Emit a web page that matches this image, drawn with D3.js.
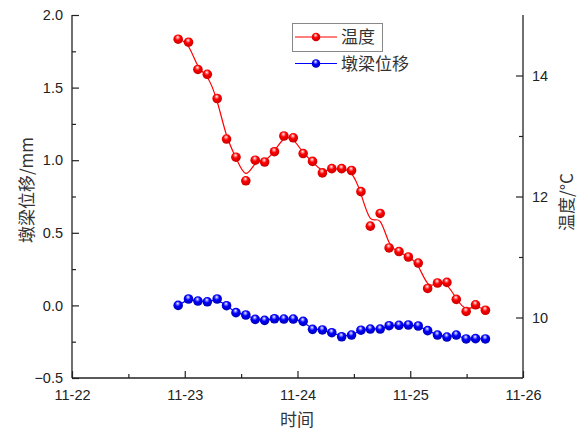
<!DOCTYPE html>
<html><head><meta charset="utf-8">
<script src="https://cdn.jsdelivr.net/npm/d3@7"></script>
<style>
html,body{margin:0;padding:0;background:#fff;}
svg{display:block;}
text{font-family:Arial,"Liberation Sans",sans-serif;}
.cjk{font-family:"Noto Sans CJK SC",sans-serif;}
</style></head>
<body>
<script>
// hours since 11-22 00:00
const timesH = [22.6,24.8,26.8,28.8,30.9,32.9,34.9,37.0,39.0,41.0,43.1,45.1,47.1,49.2,51.2,53.3,55.3,57.4,59.5,61.5,63.5,65.6,67.5,69.6,71.6,73.7,75.7,77.8,79.8,81.8,83.9,85.9,88.0];
const temperature = [14.60,14.55,14.10,14.02,13.62,12.95,12.65,12.26,12.60,12.57,12.74,13.00,12.97,12.71,12.58,12.39,12.46,12.46,12.43,12.08,11.51,11.72,11.15,11.09,11.00,10.90,10.48,10.57,10.58,10.30,10.10,10.21,10.12];
const displacement = [0.00,0.044,0.030,0.025,0.044,-0.002,-0.050,-0.066,-0.096,-0.103,-0.092,-0.094,-0.094,-0.110,-0.165,-0.169,-0.188,-0.216,-0.204,-0.171,-0.163,-0.163,-0.140,-0.137,-0.135,-0.142,-0.174,-0.204,-0.218,-0.204,-0.231,-0.229,-0.231];
const dayTicks = [0,24,48,72,96];
const dayLabels = ["11-22","11-23","11-24","11-25","11-26"];
const leftTicks = [-0.5,0.0,0.5,1.0,1.5,2.0];
const rightTicks = [10,12,14];

const W=582,H=433;
const L=72,R=523,T=15,B=378;
const svg=d3.select("body").append("svg").attr("width",W).attr("height",H);
const defs=svg.append("defs");
function grad(id,hi,mid,base,dark){
  const g=defs.append("radialGradient").attr("id",id).attr("cx","0.45").attr("cy","0.4").attr("r","0.6").attr("fx","0.45").attr("fy","0.28");
  g.append("stop").attr("offset","0%").attr("stop-color","#ffffff");
  g.append("stop").attr("offset","18%").attr("stop-color",hi);
  g.append("stop").attr("offset","45%").attr("stop-color",mid);
  g.append("stop").attr("offset","100%").attr("stop-color",dark);
}
grad("gr","#ff9090","#ff0000","#ff0000","#c80000");
grad("gb","#9090ff","#0000ff","#0000ff","#0000b4");

const x=d3.scaleLinear().domain([0,96]).range([L,R]);
const yL=d3.scaleLinear().domain([-0.5,2.0]).range([B,T]);
const yR=d3.scaleLinear().domain([9,15]).range([B,T]);
const axisColor="#222";

// axes
const gx=svg.append("g").attr("transform",`translate(0,${B})`)
  .call(d3.axisBottom(x).tickValues(dayTicks).tickSize(-7).tickPadding(12).tickFormat((d,i)=>dayLabels[i]));
const gxm=svg.append("g").attr("transform",`translate(0,${B})`)
  .call(d3.axisBottom(x).tickValues([12,36,60,84]).tickSize(-4).tickFormat(""));
const gl=svg.append("g").attr("transform",`translate(${L},0)`)
  .call(d3.axisLeft(yL).tickValues(leftTicks).tickSize(-7).tickPadding(9).tickFormat(d3.format(".1f")));
const glm=svg.append("g").attr("transform",`translate(${L},0)`)
  .call(d3.axisLeft(yL).tickValues([-0.25,0.25,0.75,1.25,1.75]).tickSize(-4).tickFormat(""));
const gr=svg.append("g").attr("transform",`translate(${R},0)`)
  .call(d3.axisRight(yR).tickValues(rightTicks).tickSize(-7).tickPadding(9).tickFormat(d3.format("d")));
const grm=svg.append("g").attr("transform",`translate(${R},0)`)
  .call(d3.axisRight(yR).tickValues([11,13]).tickSize(-4).tickFormat(""));
[gx,gxm,gl,glm,gr,grm].forEach(g=>{
  g.select(".domain").attr("stroke",axisColor).attr("stroke-width",1.3);
  g.selectAll(".tick line").attr("stroke",axisColor).attr("stroke-width",1.2);
  g.selectAll(".tick text").attr("fill","#222").style("font-size","14.5px").style("font-family","Arial,'Liberation Sans',sans-serif");
});
[gxm,glm,grm].forEach(g=>g.select(".domain").remove());
// remove the outer ticks of domain path (d3 draws offsets) -> redraw plain lines
[gx,gl,gr].forEach(g=>g.select(".domain").remove());
svg.append("line").attr("x1",L).attr("x2",R).attr("y1",B).attr("y2",B).attr("stroke",axisColor).attr("stroke-width",1.3);
svg.append("line").attr("x1",L).attr("x2",L).attr("y1",T).attr("y2",B).attr("stroke",axisColor).attr("stroke-width",1.3);
svg.append("line").attr("x1",R).attr("x2",R).attr("y1",T).attr("y2",B).attr("stroke",axisColor).attr("stroke-width",1.3);

// titles
svg.append("text").attr("class","cjk").attr("x",297).attr("y",426).attr("text-anchor","middle")
  .attr("fill","#333").style("font-size","17px").text("时间");
svg.append("text").attr("class","cjk").attr("transform","translate(33,190) rotate(-90)").attr("text-anchor","middle")
  .attr("fill","#333").style("font-size","17px").text("墩梁位移/mm");
svg.append("text").attr("class","cjk").attr("transform","translate(573,202) rotate(-90)").attr("text-anchor","middle")
  .attr("fill","#333").style("font-size","17px").text("温度/°C");

// series
const tData=timesH.map((h,i)=>({h,v:temperature[i]}));
const dData=timesH.map((h,i)=>({h,v:displacement[i]}));
svg.append("path").datum(tData).attr("fill","none").attr("stroke","#ff0000").attr("stroke-width",1.2)
  .attr("d",d3.line().x(d=>x(d.h)).y(d=>yR(d.v)).curve(d3.curveBasis));
svg.append("path").datum(dData).attr("fill","none").attr("stroke","#0000ff").attr("stroke-width",1.2)
  .attr("d",d3.line().x(d=>x(d.h)).y(d=>yL(d.v)).curve(d3.curveBasis));
svg.append("g").selectAll("circle").data(dData).join("circle")
  .attr("cx",d=>x(d.h)).attr("cy",d=>yL(d.v)).attr("r",4.8).attr("fill","url(#gb)");
svg.append("g").selectAll("circle").data(tData).join("circle")
  .attr("cx",d=>x(d.h)).attr("cy",d=>yR(d.v)).attr("r",4.8).attr("fill","url(#gr)");

// legend
const lg=svg.append("g");
lg.append("rect").attr("x",292.5).attr("y",23.5).attr("width",90).attr("height",28)
  .attr("fill","none").attr("stroke","#888").attr("stroke-width",1);
const items=[{name:"温度",c:"#ff0000",g:"url(#gr)",y:37},{name:"墩梁位移",c:"#0000ff",g:"url(#gb)",y:63.5}];
items.forEach(it=>{
  lg.append("line").attr("x1",295).attr("x2",337).attr("y1",it.y).attr("y2",it.y).attr("stroke",it.c).attr("stroke-width",1.2);
  lg.append("circle").attr("cx",316).attr("cy",it.y).attr("r",4.3).attr("fill",it.g);
  lg.append("text").attr("class","cjk").attr("x",341).attr("y",it.y+6).attr("fill","#333")
    .style("font-size","17px").text(it.name);
});
</script>
</body></html>
